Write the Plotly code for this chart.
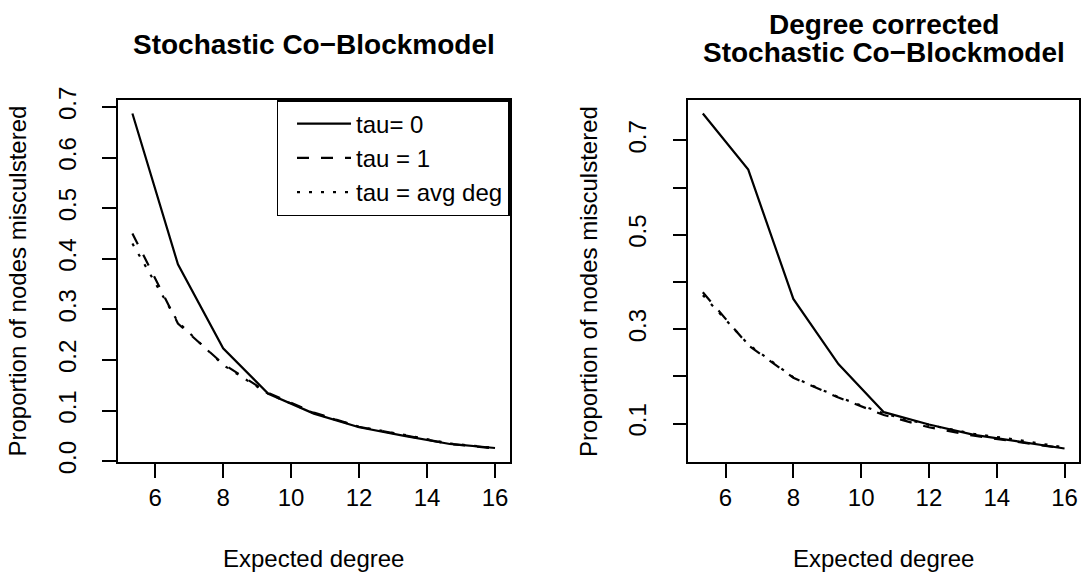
import plotly.graph_objects as go

W, H = 1081, 584

# ---------------- data ----------------
expected_degree = [5.33, 6.67, 8.0, 9.33, 10.67, 12.0, 13.33, 14.67, 16.0]

# Stochastic Co-Blockmodel
scbm_tau0 = [0.687, 0.389, 0.223, 0.133, 0.094, 0.067, 0.050, 0.034, 0.026]
scbm_tau1 = [0.450, 0.272, 0.192, 0.135, 0.096, 0.068, 0.051, 0.034, 0.025]
scbm_tauavg = [0.430, 0.275, 0.190, 0.133, 0.095, 0.068, 0.052, 0.035, 0.026]

# Degree corrected Stochastic Co-Blockmodel
dc_tau0 = [0.757, 0.638, 0.364, 0.226, 0.124, 0.098, 0.076, 0.062, 0.047]
dc_tau1 = [0.378, 0.266, 0.197, 0.155, 0.118, 0.092, 0.074, 0.061, 0.047]
dc_tauavg = [0.372, 0.268, 0.198, 0.156, 0.121, 0.097, 0.078, 0.065, 0.049]

series_names = ["tau= 0", "tau = 1", "tau = avg deg"]
x_ticks = [6, 8, 10, 12, 14, 16]
left_y_ticks = [0.0, 0.1, 0.2, 0.3, 0.4, 0.5, 0.6, 0.7]
left_y_labels = ["0.0", "0.1", "0.2", "0.3", "0.4", "0.5", "0.6", "0.7"]
right_y_ticks = [0.1, 0.2, 0.3, 0.4, 0.5, 0.6, 0.7]
right_y_labels = ["0.1", "", "0.3", "", "0.5", "", "0.7"]

title_left = "Stochastic Co\u2212Blockmodel"
title_right_1 = "Degree corrected"
title_right_2 = "Stochastic Co\u2212Blockmodel"
x_title = "Expected degree"
y_title = "Proportion of nodes misculstered"

# ---------------- styling ----------------
FONT = "Liberation Sans, Arial, Helvetica, sans-serif"
dashes = ["solid", "12px,12px", "3px,9px"]
LW = 2.2


def r_range(*arrays):
    vals = [v for a in arrays for v in a]
    lo, hi = min(vals), max(vals)
    pad = 0.04 * (hi - lo)
    return [lo - pad, hi + pad]


fig = go.Figure()

for i, ys in enumerate([scbm_tau0, scbm_tau1, scbm_tauavg]):
    fig.add_trace(go.Scatter(
        x=expected_degree, y=ys, mode="lines", name=series_names[i],
        line=dict(color="black", width=LW, dash=dashes[i]),
        xaxis="x", yaxis="y", showlegend=True))

for i, ys in enumerate([dc_tau0, dc_tau1, dc_tauavg]):
    fig.add_trace(go.Scatter(
        x=expected_degree, y=ys, mode="lines", name=series_names[i],
        line=dict(color="black", width=LW, dash=dashes[i]),
        xaxis="x2", yaxis="y2", showlegend=False))

# plot frames in pixels (left, right, top, bottom)
L1, R1 = 118, 510
L2, R2 = 689, 1080
TOP, BOT = 91, 469

ydom = [(H - BOT) / H, (H - TOP) / H]

axis_common = dict(
    showline=True, linecolor="black", linewidth=1.5, mirror=True,
    ticks="outside", ticklen=14, tickwidth=1.5, tickcolor="black",
    showgrid=False, zeroline=False,
    tickfont=dict(family=FONT, size=24, color="black"),
)

xr = r_range(expected_degree)

fig.update_layout(
    width=W, height=H, autosize=False,
    margin=dict(l=0, r=0, t=0, b=0),
    paper_bgcolor="white", plot_bgcolor="white",
    font=dict(family=FONT, color="black"),
    xaxis=dict(domain=[L1 / W, R1 / W], anchor="y", range=xr,
               tickvals=x_ticks, ticklabelstandoff=0, **axis_common),
    yaxis=dict(domain=ydom, anchor="x",
               range=r_range(scbm_tau0, scbm_tau1, scbm_tauavg),
               tickvals=left_y_ticks, ticktext=left_y_labels, tickangle=-90,
               ticklabelstandoff=17, **axis_common),
    xaxis2=dict(domain=[L2 / W, R2 / W], anchor="y2", range=xr,
                tickvals=x_ticks, ticklabelstandoff=0, **axis_common),
    yaxis2=dict(domain=ydom, anchor="x2",
                range=r_range(dc_tau0, dc_tau1, dc_tauavg),
                tickvals=right_y_ticks, ticktext=right_y_labels, tickangle=-90,
                ticklabelstandoff=17, **axis_common),
    legend=dict(x=R1 / W, y=(H - TOP) / H, xanchor="right", yanchor="top",
                bordercolor="black", borderwidth=1.5, bgcolor="white",
                font=dict(family=FONT, size=24, color="black"),
                itemwidth=54, indentation=14, tracegroupgap=0),
)


def px_x(v):
    return v / W


def px_y(v):
    return (H - v) / H


ann = []
# main titles
ann.append(dict(text="<b>%s</b>" % title_left, x=px_x((L1 + R1) / 2), y=px_y(33)))
ann.append(dict(text="<b>%s</b>" % title_right_1, x=px_x((L2 + R2) / 2), y=px_y(12)))
ann.append(dict(text="<b>%s</b>" % title_right_2, x=px_x((L2 + R2) / 2), y=px_y(41)))
for a in ann:
    a.update(font=dict(family=FONT, size=28, color="black"))
# axis titles
for cx in [(L1 + R1) / 2, (L2 + R2) / 2]:
    ann.append(dict(text=x_title, x=px_x(cx), y=px_y(570),
                    font=dict(family=FONT, size=24, color="black")))
for lx in [L1, L2]:
    ann.append(dict(text=y_title, x=px_x(lx - 100.5), y=px_y((TOP + BOT) / 2),
                    textangle=-90,
                    font=dict(family=FONT, size=24, color="black")))
for a in ann:
    a.update(xref="paper", yref="paper", showarrow=False,
             xanchor="center", yanchor="middle")
fig.update_layout(annotations=ann)

fig.write_html("out.html",
               config={"displayModeBar": False},
               post_script="document.body.style.margin='0px';"
                           "document.documentElement.style.overflow='hidden';")
